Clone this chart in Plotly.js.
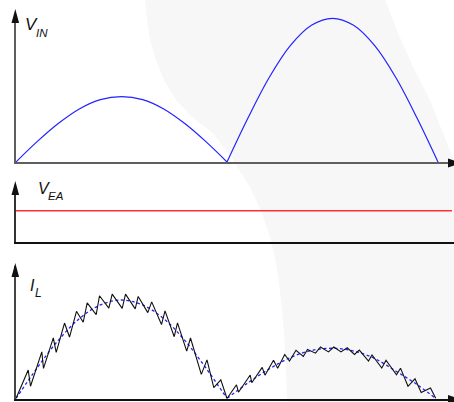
<!DOCTYPE html>
<html>
<head>
<meta charset="utf-8">
<script src="https://cdn.plot.ly/plotly-3.0.1.min.js"></script>
<style>
  html, body { margin: 0; padding: 0; background: #ffffff; }
  #chart { width: 454px; height: 402px; }
</style>
</head>
<body>
<div id="chart"></div>
<script>
// Boost PFC waveforms: rectified line voltage, error-amp output, inductor current.
// Time in ms (two half-cycles), voltage in V, current in A.

// Rectified input voltage, one array pair per half-cycle
const vinT1 = [0, 1, 2, 3, 4, 5, 6, 7, 8, 9, 10];
const vin1  = [0, 46, 87, 120, 141, 148, 141, 120, 87, 46, 0];
const vinT2 = [10, 11, 12, 13, 14, 15, 16, 17, 18, 19, 20];
const vin2  = [0, 100, 191, 263, 309, 325, 309, 263, 191, 100, 0];

// Error amplifier output (flat)
const veaT = [0, 20.66];
const vea  = [1, 1];

// Inductor current with switching ripple (vertices of the sawtooth)
const iLT = [0, 0.578, 0.687, 1.223, 1.303, 1.768, 1.905, 2.299, 2.536, 2.867, 3.185,
  3.374, 3.801, 3.957, 4.398, 4.559, 5.033, 5.190, 5.649, 5.791, 6.246, 6.431, 6.896,
  7.062, 7.498, 7.654, 8.090, 8.270, 8.782, 9.052, 9.374, 9.706, 10.0,
  10.450, 10.545, 11.100, 11.175, 11.668, 11.801, 12.204, 12.403, 12.735, 12.962,
  13.270, 13.616, 13.815, 14.194, 14.431, 14.810, 15.062, 15.403, 15.697, 16.043,
  16.270, 16.706, 16.872, 17.336, 17.536, 18.033, 18.223, 18.578, 18.910, 19.204,
  19.645, 19.896];
const iL = [0, 0.289, 0.124, 0.473, 0.306, 0.616, 0.468, 0.766, 0.624, 0.885, 0.774,
  0.970, 0.852, 1.043, 0.917, 1.059, 0.915, 1.059, 0.910, 1.036, 0.872, 0.981, 0.751,
  0.890, 0.627, 0.768, 0.481, 0.614, 0.245, 0.392, 0.111, 0.190, 0,
  0.139, 0.064, 0.238, 0.160, 0.316, 0.237, 0.389, 0.306, 0.447, 0.380,
  0.490, 0.427, 0.498, 0.460, 0.523, 0.473, 0.523, 0.473, 0.515, 0.447,
  0.491, 0.380, 0.442, 0.309, 0.389, 0.240, 0.308, 0.124, 0.200, 0.061,
  0.107, 0];

// Average inductor current, one array pair per half-cycle
const iAvgT1 = [0, 1, 2, 3, 4, 5, 6, 7, 8, 9, 10];
const iAvg1  = [0, 0.31, 0.59, 0.81, 0.95, 1.0, 0.95, 0.81, 0.59, 0.31, 0];
const iAvgT2 = [10, 11, 12, 13, 14, 15, 16, 17, 18, 19, 19.9];
const iAvg2  = [0, 0.16, 0.30, 0.415, 0.487, 0.51, 0.482, 0.406, 0.278, 0.143, 0];

const W = 454, H = 402;
const X0 = 16;              // left edge of the plotting area, px
const PX_PER_MS = 21.1;

// pixel point -> paper coordinates
function pp(x, y) { return (x / W).toFixed(5) + ',' + (1 - y / H).toFixed(5); }
function poly(pts) {
  return pts.map((p, i) => (i ? 'L' : 'M') + pp(p[0], p[1])).join(' ') + ' Z';
}
function upArrow(x, tip, base, hw) {
  return poly([[x, tip], [x + hw, base], [x - hw, base]]);
}
function rightArrow(y, tip, base, hh) {
  return poly([[tip, y], [base, y + hh], [base, y - hh]]);
}

const blue = '#2323ff';
const traces = [
  { x: vinT1, y: vin1, xaxis: 'x', yaxis: 'y', mode: 'lines',
    line: { color: blue, width: 1.2, shape: 'spline' } },
  { x: vinT2, y: vin2, xaxis: 'x', yaxis: 'y', mode: 'lines',
    line: { color: blue, width: 1.2, shape: 'spline' } },
  { x: veaT, y: vea, xaxis: 'x2', yaxis: 'y2', mode: 'lines',
    line: { color: '#ff3030', width: 1.4 } },
  { x: iAvgT1, y: iAvg1, xaxis: 'x3', yaxis: 'y3', mode: 'lines',
    line: { color: blue, width: 1.3, shape: 'spline', dash: '3px,2.5px' } },
  { x: iAvgT2, y: iAvg2, xaxis: 'x3', yaxis: 'y3', mode: 'lines',
    line: { color: blue, width: 1.3, shape: 'spline', dash: '3px,2.5px' } },
  { x: iLT, y: iL, xaxis: 'x3', yaxis: 'y3', mode: 'lines',
    line: { color: '#111111', width: 1.1 } }
];

const xRange = [0, (W - X0) / PX_PER_MS];
const xDom = [X0 / W, 1];
function xAx(anchor, color) {
  return { domain: xDom, range: xRange, anchor: anchor, showline: true,
    linecolor: color, linewidth: 2, showgrid: false, zeroline: false,
    showticklabels: false, ticks: '', fixedrange: true };
}
function yAx(anchor, dom, top, color) {
  return { domain: dom, range: [0, top], anchor: anchor, showline: true,
    linecolor: color, linewidth: 2, showgrid: false, zeroline: false,
    showticklabels: false, ticks: '', fixedrange: true };
}

// Light swoosh drawn behind the panels
const swoosh = poly([
  [145, 0], [147, 20], [150, 40], [156, 60], [164, 80], [176, 100], [192, 117],
  [213, 133], [233, 160], [250, 187], [262, 213], [271, 240], [277, 267],
  [281, 300], [284, 333], [286, 367], [287, 402], [454, 402], [454, 160],
  [443, 133], [430, 100], [413, 67], [398, 33], [385, 0]
]);

const shapes = [
  { type: 'path', path: swoosh, xref: 'paper', yref: 'paper', layer: 'below',
    fillcolor: '#f7f7f7', line: { width: 0 } },
  { type: 'path', path: upArrow(15.3, 9, 23, 3.8), xref: 'paper', yref: 'paper',
    fillcolor: '#111', line: { width: 0 } },
  { type: 'path', path: upArrow(15.3, 181, 195, 3.8), xref: 'paper', yref: 'paper',
    fillcolor: '#111', line: { width: 0 } },
  { type: 'path', path: upArrow(15.3, 263, 277, 3.8), xref: 'paper', yref: 'paper',
    fillcolor: '#111', line: { width: 0 } },
  { type: 'path', path: rightArrow(163, 461, 448, 4.5), xref: 'paper', yref: 'paper',
    fillcolor: '#111', line: { width: 0 } },
  { type: 'path', path: rightArrow(399.5, 461, 448, 4.5), xref: 'paper', yref: 'paper',
    fillcolor: '#111', line: { width: 0 } }
];

const labelFont = { family: 'Liberation Sans, Arial, sans-serif', color: '#111111' };
function label(text, x, y, size) {
  return { text: '<i>' + text + '</i>', x: x / W, y: 1 - y / H, xref: 'paper', yref: 'paper',
    xanchor: 'left', yanchor: 'middle', showarrow: false, borderpad: 0,
    font: Object.assign({ size: size }, labelFont) };
}

const annotations = [
  label('V', 23.5, 24.5, 17), label('IN', 34.5, 32.5, 11.5),
  label('V', 36.5, 188.6, 16), label('EA', 47, 196, 11.5),
  label('I', 28.5, 285, 16), label('L', 34, 292.5, 12)
];

const layout = {
  width: W, height: H,
  margin: { l: 0, r: 0, t: 0, b: 0, pad: 0 },
  paper_bgcolor: '#ffffff', plot_bgcolor: 'rgba(0,0,0,0)',
  showlegend: false,
  xaxis: xAx('y', '#5f5f5f'),
  yaxis: yAx('x', [1 - 162 / H, 1 - 14 / H], 334.7, '#5f5f5f'),
  xaxis2: xAx('y2', '#111111'),
  yaxis2: yAx('x2', [1 - 242 / H, 1 - 185 / H], 1.821, '#333333'),
  xaxis3: xAx('y3', '#111111'),
  yaxis3: yAx('x3', [1 - 398.5 / H, 1 - 266 / H], 1.345, '#444444'),
  shapes: shapes,
  annotations: annotations
};

Plotly.newPlot('chart', traces, layout, { staticPlot: true, displayModeBar: false });
</script>
</body>
</html>
